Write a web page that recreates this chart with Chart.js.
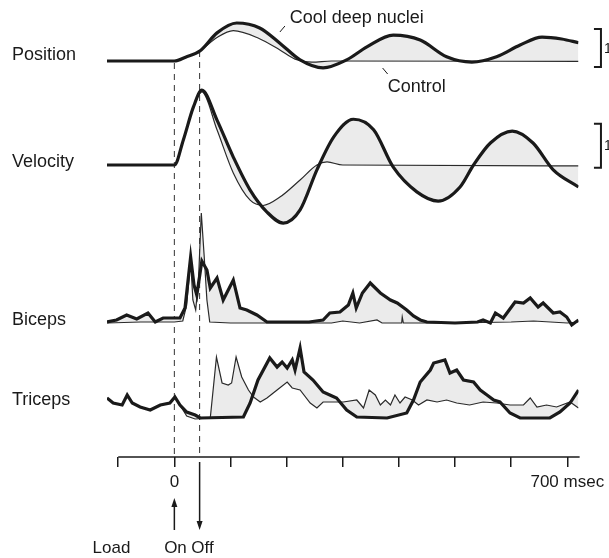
<!DOCTYPE html>
<html lang="en">
<head>
    <meta charset="UTF-8">
    <title>Cool deep nuclei - load perturbation</title>
    <script src="https://cdn.jsdelivr.net/npm/chart.js"></script>
    <style>
        body { margin: 0; background: #fff; }
    </style>
</head>
<body>
    <canvas id="traces" width="609" height="558"></canvas>

    <script>
        // trace names shown on the left
        const traceNames = ['Position', 'Velocity', 'Biceps', 'Triceps'];

        // time axis (msec)
        const xTicks = [-100, 0, 100, 200, 300, 400, 500, 600, 700];
        const xTickLabels = { 0: '0', 700: '700 msec' };
        const loadOn = 0;
        const loadOff = 45;

        // position (scale bar units)
        const posTimeCool = [-120, 0, 20, 46, 76, 111, 152, 188, 224, 265, 307, 343, 390, 438, 485, 530, 574, 616, 655, 690, 720];
        const posCool = [0, 0, 0.1, 0.27, 0.74, 1.0, 0.87, 0.47, 0.03, -0.18, 0.03, 0.37, 0.68, 0.55, 0.11, -0.03, 0.11, 0.42, 0.63, 0.58, 0.48];
        const posTimeCtrl = [-120, 0, 20, 46, 76, 105, 150, 188, 215, 245, 280, 720];
        const posCtrl = [0, 0, 0.1, 0.27, 0.62, 0.8, 0.6, 0.29, 0.05, -0.03, 0, -0.01];

        // velocity (scale bar units)
        const velTimeCool = [-120, 0, 16, 34, 49, 76, 105, 135, 165, 194, 224, 254, 284, 319, 355, 390, 432, 470, 509, 533, 563, 602, 639, 675, 720];
        const velCool = [0, 0, 0.57, 1.32, 1.7, 1.02, 0.18, -0.57, -1.07, -1.32, -1.02, -0.11, 0.64, 1.04, 0.8, -0.05, -0.61, -0.82, -0.5, 0, 0.5, 0.77, 0.5, -0.11, -0.5];
        const velTimeCtrl = [-120, 0, 16, 34, 49, 76, 105, 135, 158, 188, 224, 254, 272, 300, 720];
        const velCtrl = [0, 0, 0.57, 1.32, 1.66, 0.8, -0.18, -0.8, -0.92, -0.73, -0.34, 0, 0.07, 0, -0.02];

        // biceps EMG (arbitrary units)
        const bicTimeCool = [-120, -103, -85, -67, -47, -34, -20, 10, 19, 29, 35, 40, 49, 58, 64, 76, 87, 105, 117, 129, 147, 165, 200, 240, 265, 277, 295, 310, 318, 324, 335, 349, 367, 385, 397, 414, 426, 438, 450, 500, 540, 550, 563, 572, 586, 607, 622, 634, 648, 657, 675, 687, 699, 708, 720];
        const bicCool = [0.1, 0.3, 0.8, 0.4, 1.0, 0.1, 0.5, 0.5, 1.5, 6.6, 3.8, 2.8, 6.2, 5.3, 3.5, 4.5, 2.3, 4.3, 1.5, 1.3, 0.8, 0.1, 0.1, 0.1, 0.3, 1.0, 1.1, 1.8, 3.0, 1.5, 3.0, 4.0, 3.0, 2.3, 2.0, 1.3, 0.7, 0.3, 0.1, 0, 0.1, 0.3, 0, 1.0, 0.5, 2.1, 2.0, 2.5, 1.6, 2.0, 1.0, 1.1, 0.6, -0.2, 0.3];
        const bicTimeCtrl = [-120, -60, 0, 15, 22, 29, 33, 38, 43, 48, 53, 58, 63, 100, 200, 280, 300, 330, 361, 370, 405, 406, 408, 500, 600, 640, 700, 720];
        const bicCtrl = [0, 0.1, 0.1, 0.2, 1.8, 6.3, 2.3, 1.3, 4.3, 11.0, 6.8, 2.3, 0.1, 0, 0, 0, 0.2, 0, 0.3, 0, 0, 0.6, 0, 0, 0.1, 0.2, 0, 0.1];

        // triceps EMG (arbitrary units)
        const triTimeCool = [-120, -109, -93, -84, -75, -61, -43, -25, -8, 1, 10, 22, 37, 46, 123, 135, 149, 170, 183, 192, 201, 210, 215, 224, 231, 247, 265, 277, 289, 307, 325, 379, 414, 426, 438, 456, 462, 482, 491, 503, 515, 533, 545, 557, 569, 580, 598, 616, 669, 687, 705, 720];
        const triCool = [2.0, 1.5, 1.3, 2.3, 1.5, 1.1, 0.8, 1.3, 1.5, 2.1, 1.3, 0.6, 0.3, 0, 0.1, 1.5, 3.8, 6.0, 5.1, 5.6, 5.0, 5.8, 4.8, 7.0, 4.6, 3.8, 2.6, 2.3, 2.0, 0.8, 0.1, 0, 0.5, 1.8, 3.6, 4.8, 5.5, 5.8, 4.5, 4.8, 3.8, 3.6, 2.8, 2.3, 1.8, 1.6, 0.5, 0, 0, 0.6, 1.5, 2.8];
        const triTimeCtrl = [-120, -109, -93, -84, -75, -61, -43, -25, -8, 1, 10, 22, 37, 64, 75, 85, 96, 102, 110, 120, 132, 141, 153, 165, 183, 201, 210, 224, 242, 254, 265, 284, 301, 325, 337, 347, 358, 367, 376, 385, 393, 402, 411, 424, 435, 450, 468, 485, 503, 526, 550, 574, 598, 622, 634, 646, 663, 681, 705, 720];
        const triCtrl = [2.0, 1.5, 1.3, 2.3, 1.5, 1.1, 0.8, 1.3, 1.5, 2.1, 1.3, 0.2, -0.1, 0, 6.1, 3.5, 3.3, 3.5, 6.1, 4.1, 2.8, 2.1, 1.6, 2.0, 2.8, 3.6, 3.0, 2.8, 1.5, 1.0, 1.6, 1.6, 1.6, 1.8, 1.0, 2.8, 2.3, 1.3, 1.8, 1.3, 2.3, 1.5, 2.1, 1.8, 1.3, 1.8, 1.6, 1.8, 1.5, 1.3, 1.6, 1.5, 1.3, 1.3, 2.0, 1.1, 1.3, 1.1, 1.6, 1.0];

        // vertical placement of each trace on the shared y axis
        const traceBase = [396, 292, 134, 39];
        const traceGain = [38, 44, 10, 10];
        const labelPos = [402, 295, 137, 57];

        const FONT = '"Liberation Sans", Arial, sans-serif';
        const INK = '#1a1a1a';
        const SHADE = '#ebebeb';

        function toPoints(times, values, i) {
            return times.map((t, k) => ({ x: t, y: traceBase[i] + values[k] * traceGain[i] }));
        }

        const traceData = [
            [posTimeCool, posCool, posTimeCtrl, posCtrl],
            [velTimeCool, velCool, velTimeCtrl, velCtrl],
            [bicTimeCool, bicCool, bicTimeCtrl, bicCtrl],
            [triTimeCool, triCool, triTimeCtrl, triCtrl]
        ];

        const datasets = [];
        traceData.forEach((d, i) => {
            const smooth = i < 2;
            datasets.push({
                label: traceNames[i] + ' cool',
                data: toPoints(d[0], d[1], i),
                borderColor: INK,
                borderWidth: 3.2,
                fill: false,
                cubicInterpolationMode: smooth ? 'monotone' : 'default',
                tension: 0
            });
            datasets.push({
                label: traceNames[i] + ' control',
                data: toPoints(d[2], d[3], i),
                borderColor: '#2a2a2a',
                borderWidth: 1.2,
                backgroundColor: SHADE,
                fill: '-1',
                cubicInterpolationMode: smooth ? 'monotone' : 'default',
                tension: 0
            });
        });

        // dashed event lines, arrows, notes and scale bars
        const decor = {
            id: 'decor',
            beforeDatasetsDraw(chart) {
                const { ctx, scales: { x, y } } = chart;
                ctx.save();
                ctx.strokeStyle = '#333';
                ctx.lineWidth = 1;
                ctx.setLineDash([6, 5]);
                [[loadOn, traceBase[0] - 2], [loadOff, traceBase[0] + 10]].forEach(([t, top]) => {
                    ctx.beginPath();
                    ctx.moveTo(x.getPixelForValue(t), y.getPixelForValue(top));
                    ctx.lineTo(x.getPixelForValue(t), y.getPixelForValue(0));
                    ctx.stroke();
                });
                ctx.restore();
            },
            afterDraw(chart) {
                const { ctx, chartArea, scales: { x, y } } = chart;
                const bottom = chartArea.bottom;
                ctx.save();
                ctx.strokeStyle = INK;
                ctx.fillStyle = INK;

                // time axis line
                ctx.lineWidth = 1.5;
                ctx.beginPath();
                ctx.moveTo(x.getPixelForValue(-100), bottom);
                ctx.lineTo(x.getPixelForValue(722), bottom);
                ctx.stroke();

                // load on / off arrows
                function arrow(t, y0, y1) {
                    const px = x.getPixelForValue(t);
                    const dir = y1 > y0 ? 1 : -1;
                    ctx.lineWidth = 1.5;
                    ctx.beginPath();
                    ctx.moveTo(px, y0);
                    ctx.lineTo(px, y1 - dir * 6);
                    ctx.stroke();
                    ctx.beginPath();
                    ctx.moveTo(px, y1);
                    ctx.lineTo(px - 3, y1 - dir * 9);
                    ctx.lineTo(px + 3, y1 - dir * 9);
                    ctx.closePath();
                    ctx.fill();
                }
                arrow(loadOn, bottom + 73, bottom + 41);
                arrow(loadOff, bottom + 5, bottom + 73);

                ctx.font = '17px ' + FONT;
                ctx.textAlign = 'center';
                ctx.textBaseline = 'middle';
                ctx.fillText('Load', x.getPixelForValue(-112), bottom + 91);
                ctx.fillText('On', x.getPixelForValue(loadOn + 2), bottom + 91);
                ctx.fillText('Off', x.getPixelForValue(loadOff + 5), bottom + 91);

                // notes with leader lines
                ctx.font = '18px ' + FONT;
                ctx.fillText('Cool deep nuclei', x.getPixelForValue(325), y.getPixelForValue(439));
                ctx.fillText('Control', x.getPixelForValue(432), y.getPixelForValue(370));
                ctx.lineWidth = 1;
                ctx.beginPath();
                ctx.moveTo(x.getPixelForValue(197), y.getPixelForValue(431));
                ctx.lineTo(x.getPixelForValue(188), y.getPixelForValue(425));
                ctx.moveTo(x.getPixelForValue(371), y.getPixelForValue(389));
                ctx.lineTo(x.getPixelForValue(380), y.getPixelForValue(383));
                ctx.stroke();

                // scale bars for position and velocity (1 unit)
                ctx.lineWidth = 2;
                ctx.font = '14px ' + FONT;
                ctx.textAlign = 'left';
                [[0, -0.16], [1, -0.06]].forEach(([i, lo]) => {
                    const bx = x.getPixelForValue(760);
                    const y0 = y.getPixelForValue(traceBase[i] + lo * traceGain[i]);
                    const y1 = y.getPixelForValue(traceBase[i] + (lo + 1) * traceGain[i]);
                    ctx.beginPath();
                    ctx.moveTo(bx - 7, y1);
                    ctx.lineTo(bx, y1);
                    ctx.lineTo(bx, y0);
                    ctx.lineTo(bx - 7, y0);
                    ctx.stroke();
                    ctx.fillText('1', bx + 3, (y0 + y1) / 2 + 1);
                });
                ctx.restore();
            }
        };

        new Chart(document.getElementById('traces'), {
            type: 'line',
            data: { datasets },
            options: {
                responsive: false,
                animation: false,
                devicePixelRatio: 1,
                layout: { padding: { left: 12, right: 30.5, top: 0, bottom: 0 } },
                elements: { point: { radius: 0 } },
                plugins: { legend: { display: false }, tooltip: { enabled: false } },
                scales: {
                    x: {
                        type: 'linear',
                        min: -120,
                        max: 720,
                        afterBuildTicks: (scale) => { scale.ticks = xTicks.map(v => ({ value: v })); },
                        afterFit: (scale) => { scale.height = 101; scale.paddingLeft = 0; scale.paddingRight = 0; },
                        ticks: {
                            autoSkip: false,
                            maxRotation: 0,
                            padding: 5,
                            color: INK,
                            font: { family: FONT, size: 17 },
                            callback: (v) => xTickLabels[v] || ''
                        },
                        grid: { drawOnChartArea: false, drawTicks: true, tickLength: 10, color: INK, lineWidth: 1.5 },
                        border: { display: false }
                    },
                    y: {
                        type: 'linear',
                        min: 0,
                        max: 457,
                        afterBuildTicks: (scale) => { scale.ticks = labelPos.map(v => ({ value: v })); },
                        afterFit: (scale) => { scale.width = 95; scale.paddingTop = 0; scale.paddingBottom = 0; },
                        ticks: {
                            crossAlign: 'far',
                            padding: 0,
                            color: INK,
                            font: { family: FONT, size: 18 },
                            callback: (v) => traceNames[labelPos.indexOf(v)] || ''
                        },
                        grid: { display: false },
                        border: { display: false }
                    }
                }
            },
            plugins: [decor]
        });
    </script>
</body>
</html>
